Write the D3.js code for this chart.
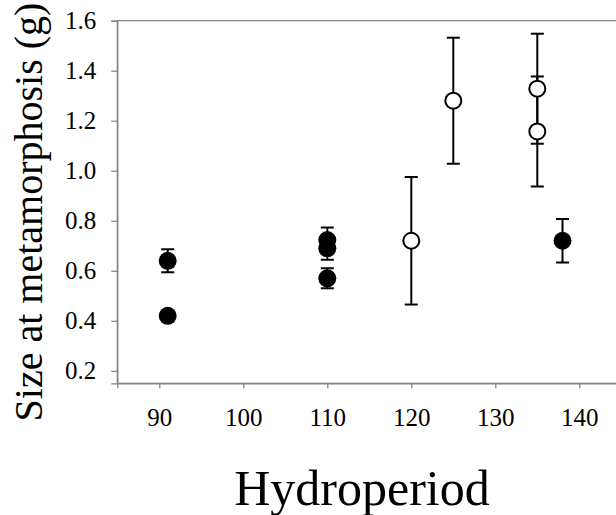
<!DOCTYPE html>
<html>
<head>
<meta charset="utf-8">
<script src="https://cdn.jsdelivr.net/npm/d3@7/dist/d3.min.js"></script>
<style>
  html, body { margin: 0; padding: 0; background: #fff; }
  svg { display: block; }
  text { font-family: "Liberation Serif", "Times New Roman", serif; fill: #000; }
</style>
</head>
<body>
<svg id="chart" width="616" height="515"></svg>
<script>
// ---- data ----
const filledHydro = [91, 91, 110, 110, 110, 138];
const filledSize  = [0.64, 0.42, 0.723, 0.69, 0.57, 0.72];
const filledErr   = [0.046, 0.02, 0.05, 0.046, 0.04, 0.087];

const openHydro = [120, 125, 135, 135];
const openSize  = [0.72, 1.28, 1.328, 1.157];
const openErr   = [0.255, 0.252, 0.22, 0.22];

const xTicks = [90, 100, 110, 120, 130, 140];
const yTicks = [0.2, 0.4, 0.6, 0.8, 1.0, 1.2, 1.4, 1.6];

const xTitle = "Hydroperiod";
const yTitle = "Size at metamorphosis (g)";

// ---- layout ----
(function () {
const svg = d3.select("#chart");
const pLeft = 117.3, pTop = 20.7, pBottom = 383.3, pRight = 621.3;
const x = d3.scaleLinear().domain([85, 145]).range([pLeft, pRight]);
const y = d3.scaleLinear().domain([0.15, 1.6]).range([pBottom, pTop]);
const axisColor = "#808080";

// frame (top + right border)
svg.append("rect")
  .attr("x", pLeft).attr("y", pTop)
  .attr("width", pRight - pLeft).attr("height", pBottom - pTop)
  .attr("fill", "none").attr("stroke", axisColor).attr("stroke-width", 1.2);

// axes
const gx = svg.append("g").attr("transform", `translate(0,${pBottom})`)
  .call(d3.axisBottom(x).tickValues(xTicks).tickSizeOuter(0).tickSize(5).tickPadding(20)
        .tickFormat(d3.format("d")));
const gy = svg.append("g").attr("transform", `translate(${pLeft},0)`)
  .call(d3.axisLeft(y).tickValues(yTicks).tickSizeOuter(0).tickSize(6).tickPadding(15)
        .tickFormat(d3.format(".1f")));
[gx, gy].forEach(g => {
  g.select(".domain").attr("stroke", axisColor).attr("stroke-width", 1.2);
  g.selectAll(".tick line").attr("stroke", axisColor).attr("stroke-width", 1.2);
  g.selectAll(".tick text").attr("font-size", 25).attr("fill", "#000")
    .style("font-family", '"Liberation Serif", "Times New Roman", serif');
});

// titles
svg.append("text")
  .attr("x", 362).attr("y", 505)
  .attr("text-anchor", "middle").attr("font-size", 50)
  .text(xTitle);
svg.append("text")
  .attr("transform", `translate(42,212) rotate(-90)`)
  .attr("text-anchor", "middle").attr("font-size", 40)
  .text(yTitle);

// data rows
const filled = filledHydro.map((h, i) => ({h, v: filledSize[i], e: filledErr[i]}));
const open = openHydro.map((h, i) => ({h, v: openSize[i], e: openErr[i]}));
const capW = 6.5;

function drawErr(data) {
  const g = svg.append("g").attr("stroke", "#000").attr("stroke-width", 2).attr("fill", "none");
  data.forEach(d => {
    const cx = x(d.h), y1 = y(d.v + d.e), y2 = y(d.v - d.e);
    g.append("line").attr("x1", cx).attr("x2", cx).attr("y1", y1).attr("y2", y2);
    g.append("line").attr("x1", cx - capW).attr("x2", cx + capW).attr("y1", y1).attr("y2", y1);
    g.append("line").attr("x1", cx - capW).attr("x2", cx + capW).attr("y1", y2).attr("y2", y2);
  });
}
drawErr(filled);
drawErr(open);

svg.append("g").selectAll("circle").data(filled).join("circle")
  .attr("cx", d => x(d.h)).attr("cy", d => y(d.v)).attr("r", 9)
  .attr("fill", "#000");
svg.append("g").selectAll("circle").data(open).join("circle")
  .attr("cx", d => x(d.h)).attr("cy", d => y(d.v)).attr("r", 8)
  .attr("fill", "#fff").attr("stroke", "#000").attr("stroke-width", 2);
})();
</script>
</body>
</html>
